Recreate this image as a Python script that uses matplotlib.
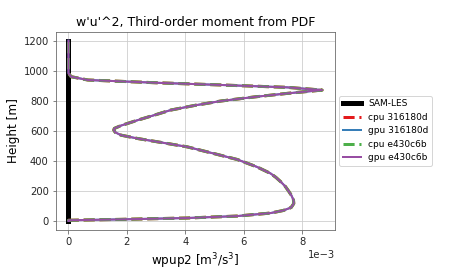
import matplotlib
matplotlib.use('Agg')
import matplotlib.pyplot as plt
import numpy as np

# heights [m] and wpup2 [1e-3 m^3/s^3]
height = [0, 5, 11, 20, 33, 53, 70, 90, 116, 140, 170, 200, 230, 260, 290,
          316, 360, 409, 450, 493, 525, 549, 571, 590, 605, 616, 635, 671,
          705, 738, 770, 798, 825, 849, 871, 889, 905, 920, 938, 960, 983,
          1000, 1100, 1200]
wpup2_e3 = [0.0, 0.0, 1.8, 4.07, 5.78, 6.92, 7.35, 7.62, 7.71, 7.7, 7.63,
            7.53, 7.42, 7.27, 7.1, 6.92, 6.45, 5.78, 4.95, 4.07, 3.1, 2.36,
            1.8, 1.6, 1.55, 1.57, 1.8, 2.37, 2.95, 3.5, 4.35, 5.21, 6.35,
            7.49, 8.68, 7.49, 5.21, 2.94, 0.66, 0.09, 0.0, 0.0, 0.0, 0.0]
sam_height = [0, 1200]
sam_wpup2 = [0.0, 0.0]

labels = ['cpu 316180d', 'gpu 316180d', 'cpu e430c6b', 'gpu e430c6b']
colors = ['#e41a1c', '#377eb8', '#4daf4a', '#984ea3']
styles = ['--', '-', '--', '-']
widths = [3, 2, 3, 2]

wpup2 = np.array(wpup2_e3) * 1e-3

plt.rcParams['axes.edgecolor'] = '0.4'
plt.rcParams['xtick.color'] = '0.4'
plt.rcParams['ytick.color'] = '0.4'
plt.rcParams['xtick.labelcolor'] = '0.15'
plt.rcParams['ytick.labelcolor'] = '0.15'

fig = plt.figure(figsize=(6.25, 3.75), dpi=72)
ax = fig.add_axes([0.124, 0.148, 0.62, 0.735])
ax.plot(sam_wpup2, sam_height, color='k', lw=5, label='SAM-LES')
for lab, c, ls, lw in zip(labels, colors, styles, widths):
    ax.plot(wpup2, height, color=c, ls=ls, lw=lw, label=lab)
ax.grid(color='0.8', lw=0.8)
ax.ticklabel_format(axis='x', style='sci', scilimits=(0, 0))
ax.set_title("w'u'^2, Third-order moment from PDF", fontsize=12.5)
ax.set_xlabel(r'wpup2 [$\mathrm{m^3/s^3}$]', fontsize=12)
ax.set_ylabel('Height [m]', fontsize=12)
ax.tick_params(labelsize=10)
ax.legend(loc='center left', bbox_to_anchor=(1, 0.5), fontsize=9)
fig.savefig('out.png', dpi=72)
